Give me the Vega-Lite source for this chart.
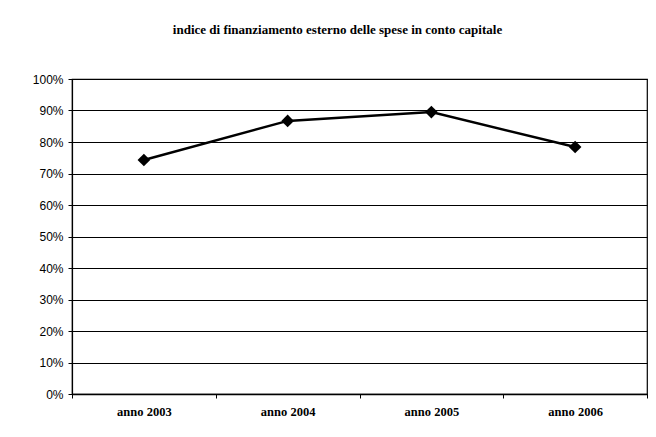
{
  "$schema": "https://vega.github.io/schema/vega-lite/v6.json",
  "width": 575,
  "height": 315,
  "autosize": "none",
  "padding": {"left": 72, "top": 79, "right": 9, "bottom": 43},
  "background": "white",
  "title": {
    "text": "indice di finanziamento esterno delle spese in conto capitale",
    "font": "Liberation Serif",
    "fontSize": 13,
    "fontWeight": "bold",
    "color": "black",
    "anchor": "middle",
    "dx": -22,
    "offset": 36
  },
  "data": {
    "values": [
      {"anno": "anno 2003", "valore": 0.743},
      {"anno": "anno 2004", "valore": 0.867},
      {"anno": "anno 2005", "valore": 0.895},
      {"anno": "anno 2006", "valore": 0.784}
    ]
  },
  "encoding": {
    "x": {
      "field": "anno",
      "type": "nominal",
      "sort": null,
      "scale": {"paddingInner": 0, "paddingOuter": 0},
      "axis": {
        "title": null,
        "labelAngle": 0,
        "labelFont": "Liberation Serif",
        "labelFontWeight": "bold",
        "labelFontSize": 12.5,
        "labelColor": "black",
        "labelPadding": 7,
        "tickBand": "extent",
        "tickSize": 4,
        "tickColor": "black",
        "domainColor": "black",
        "domainWidth": 1.5,
        "grid": false
      }
    },
    "y": {
      "field": "valore",
      "type": "quantitative",
      "scale": {"domain": [0, 1], "nice": false},
      "axis": {
        "title": null,
        "format": ".0%",
        "values": [0, 0.1, 0.2, 0.3, 0.4, 0.5, 0.6, 0.7, 0.8, 0.9, 1],
        "labelFont": "Liberation Sans",
        "labelFontSize": 12,
        "labelColor": "black",
        "labelPadding": 5,
        "tickSize": 4,
        "tickColor": "black",
        "domainColor": "black",
        "domainWidth": 1.2,
        "grid": true,
        "gridColor": "black",
        "gridWidth": 1.2,
        "gridOpacity": 1
      }
    }
  },
  "layer": [
    {"mark": {"type": "line", "color": "black", "strokeWidth": 2.5}},
    {"mark": {"type": "point", "shape": "diamond", "filled": true, "color": "black", "size": 160, "opacity": 1}}
  ],
  "config": {
    "view": {"stroke": "black", "strokeWidth": 1.2}
  }
}
